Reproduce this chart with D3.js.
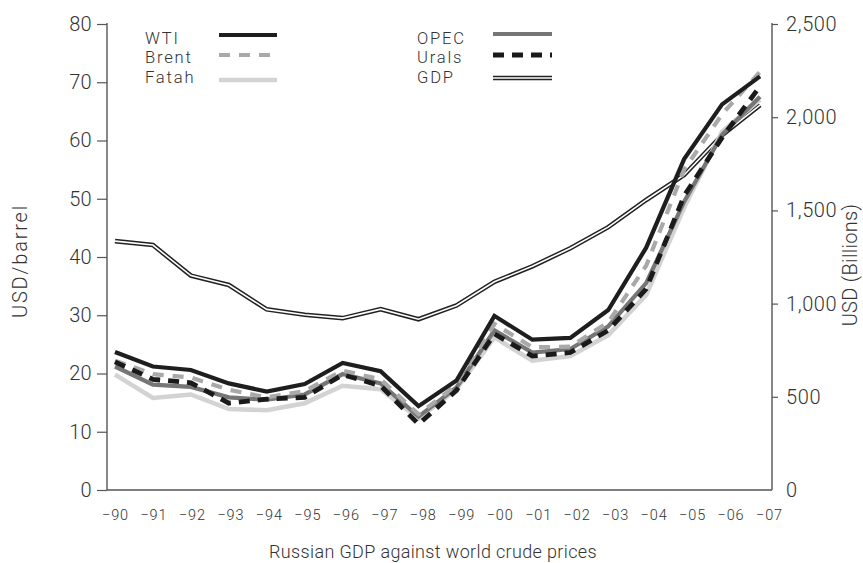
<!DOCTYPE html>
<html><head><meta charset="utf-8">
<script src="https://cdn.jsdelivr.net/npm/d3@7"></script>
<style>
html,body{margin:0;padding:0;background:#fff;}
text{font-family:Roboto,"Open Sans",sans-serif;font-weight:300;fill:#333;}
</style></head>
<body><svg id="c" width="863" height="563"></svg>
<script>
const years = ["−90","−91","−92","−93","−94","−95","−96","−97","−98","−99","−00","−01","−02","−03","−04","−05","−06","−07"];
const wti   = [23.7,21.2,20.6,18.3,16.9,18.2,21.8,20.4,14.4,18.8,29.9,25.8,26.1,30.9,41.6,56.8,66.2,71.0];
const brent = [22.2,19.9,19.3,17.2,15.9,17.0,20.5,19.0,13.0,18.0,28.5,24.5,24.6,28.8,38.5,55.0,64.5,71.8];
const fatah = [19.8,15.8,16.4,13.9,13.7,14.9,17.9,17.3,12.3,17.3,26.2,22.2,23.0,26.6,33.5,48.5,61.5,67.0];
const opec  = [21.2,18.1,17.7,15.9,15.5,16.4,19.9,18.3,12.6,17.6,27.4,23.6,24.2,28.1,35.5,49.5,61.0,67.5];
const urals = [22.0,19.0,18.4,14.9,15.6,15.9,19.8,17.9,11.3,17.1,26.8,23.0,23.6,27.4,34.5,50.5,60.5,69.3];
const gdp   = [1335,1314,1150,1100,969,940,922,970,916,990,1117,1200,1297,1410,1556,1690,1904,2065];
const leftTicks  = [0,10,20,30,40,50,60,70,80];
const rightTicks = [0,500,1000,1500,2000,2500];
const seriesNames = ["WTI","Brent","Fatah","OPEC","Urals","GDP"];

const svg = d3.select("#c");
const x = d3.scalePoint().domain(years).range([115, 760]);
const xLab = d3.scalePoint().domain(years).range([115, 769]);
const yL = d3.scaleLinear().domain([0, 80]).range([490, 24]);
const yR = d3.scaleLinear().domain([0, 2500]).range([490, 24]);

const styles = {
  WTI:   {color:"#1e1e1e", width:4.2, dash:null},
  Brent: {color:"#a9a9a9", width:4.2, dash:"11,9"},
  Fatah: {color:"#d3d3d3", width:4.6, dash:null},
  OPEC:  {color:"#767676", width:4.2, dash:null},
  Urals: {color:"#1a1a1a", width:4.8, dash:"11,8"},
  GDP:   {color:"#222", width:5, dash:null}
};
const dataMap = {WTI:wti, Brent:brent, Fatah:fatah, OPEC:opec, Urals:urals};
const FONT = 'Roboto,"Open Sans",sans-serif';

// axes
const gL = svg.append("g").attr("transform","translate(107,0)")
  .call(d3.axisLeft(yL).tickValues(leftTicks).tickSize(10).tickPadding(5).tickFormat(d3.format("d")));
const gR = svg.append("g").attr("transform","translate(772,0)")
  .call(d3.axisRight(yR).tickValues(rightTicks).tickSize(6).tickPadding(8).tickFormat(d3.format(",")));
[gL,gR].forEach(g=>{
  g.select(".domain").attr("stroke","#555").attr("stroke-width",1.4).attr("d","M0,23V490");
  g.selectAll(".tick line").attr("stroke","#555").attr("stroke-width",1.2);
  g.selectAll("text").attr("font-size",20).attr("font-weight",300).attr("fill","#333")
    .attr("letter-spacing", g===gR ? 0.6 : 0.3).style("font-family",FONT);
});
gR.selectAll(".tick").filter(d=>d===0).select("line").remove();
// x axis line
const gX = svg.append("g").attr("transform","translate(0,490)")
  .call(d3.axisBottom(xLab).tickSize(0).tickPadding(20));
gX.select(".domain").attr("stroke","#555").attr("stroke-width",1.4).attr("d","M107,0H772");
gX.selectAll("text").attr("font-size",14.5).attr("font-weight",300).attr("fill","#333").attr("letter-spacing",0.9).style("font-family",FONT);

// axis titles
svg.append("text").attr("transform","translate(27,261) rotate(-90)").attr("text-anchor","middle")
  .attr("font-size",20).attr("letter-spacing",1.8).text("USD/barrel");
svg.append("text").attr("transform","translate(857,265) rotate(-90)").attr("text-anchor","middle")
  .attr("font-size",20).attr("letter-spacing",0.3).text("USD (Billions)");
svg.append("text").attr("x",433).attr("y",558).attr("text-anchor","middle")
  .attr("font-size",18).attr("letter-spacing",0.35).text("Russian GDP against world crude prices");

// GDP double line
const lineR = d3.line().x((d,i)=>x(years[i])).y(d=>yR(d));
svg.append("path").attr("d",lineR(gdp)).attr("fill","none").attr("stroke","#222").attr("stroke-width",4.6);
svg.append("path").attr("d",lineR(gdp)).attr("fill","none").attr("stroke","#fff").attr("stroke-width",1.6);

// price lines
const lineL = d3.line().x((d,i)=>x(years[i])).y(d=>yL(d));
["Fatah","OPEC","Brent","Urals","WTI"].forEach(n=>{
  const s = styles[n];
  svg.append("path").attr("d",lineL(dataMap[n])).attr("fill","none")
    .attr("stroke",s.color).attr("stroke-width",s.width)
    .attr("stroke-dasharray",s.dash);
});

// legend
const legPos = {
  WTI:{tx:145,ty:43.5,x1:219,x2:277,ly:35},
  Brent:{tx:145,ty:63,x1:219,x2:277,ly:55},
  Fatah:{tx:145,ty:82.5,x1:219,x2:277,ly:80},
  OPEC:{tx:417,ty:43.5,x1:493,x2:552,ly:34},
  Urals:{tx:417,ty:63,x1:493,x2:552,ly:55},
  GDP:{tx:417,ty:82.5,x1:493,x2:552,ly:78}
};
seriesNames.forEach(n=>{
  const p = legPos[n], s = styles[n];
  svg.append("text").attr("x",p.tx).attr("y",p.ty).attr("font-size",16.6)
    .attr("letter-spacing",1.8).text(n);
  if(n==="GDP"){
    svg.append("line").attr("x1",p.x1).attr("x2",p.x2).attr("y1",p.ly).attr("y2",p.ly).attr("stroke","#222").attr("stroke-width",4.6);
    svg.append("line").attr("x1",p.x1).attr("x2",p.x2).attr("y1",p.ly).attr("y2",p.ly).attr("stroke","#fff").attr("stroke-width",1.6);
  } else {
    svg.append("line").attr("x1",p.x1).attr("x2",p.x2).attr("y1",p.ly).attr("y2",p.ly)
      .attr("stroke",s.color).attr("stroke-width",s.width).attr("stroke-dasharray",s.dash);
  }
});
</script></body></html>
